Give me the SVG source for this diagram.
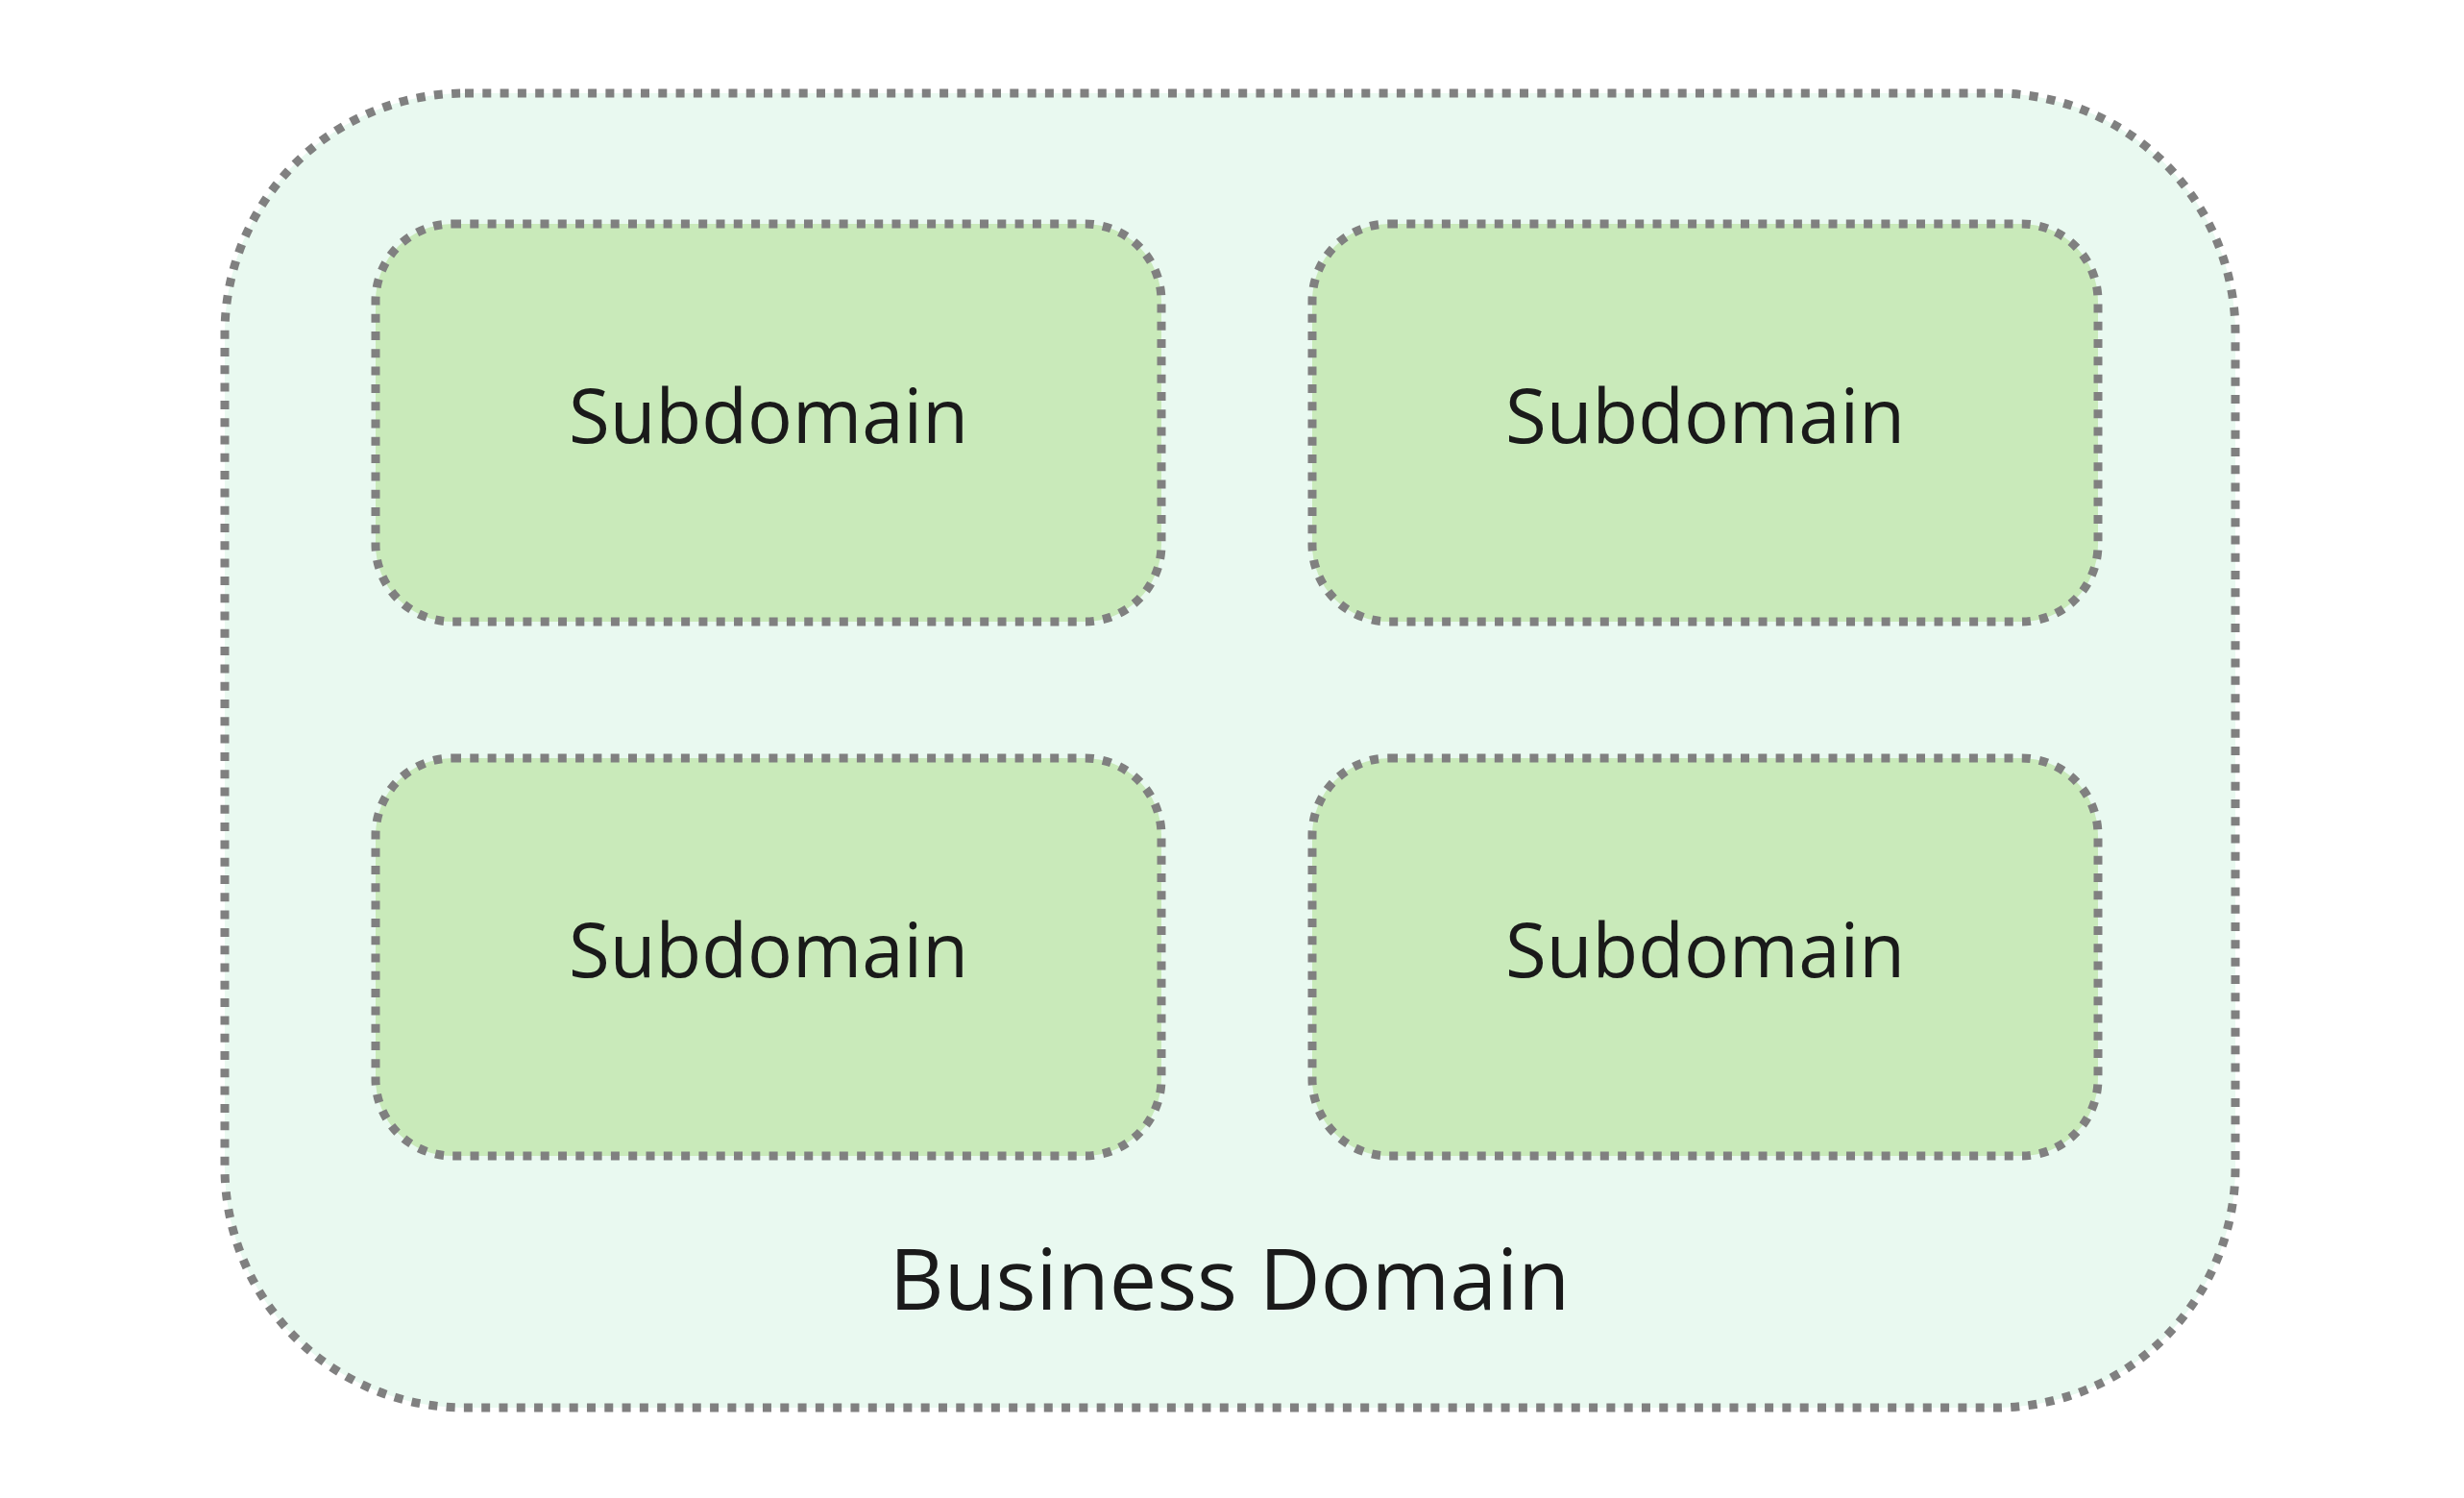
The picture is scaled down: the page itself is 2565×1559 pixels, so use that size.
<svg xmlns="http://www.w3.org/2000/svg" width="2565" height="1559" viewBox="0 0 2565 1559">
<style>
.domain{fill:#e9f9f0;stroke:#808080;stroke-width:9;stroke-dasharray:9 9.3}
.sub{fill:#c9eaba;stroke:#808080;stroke-width:9;stroke-dasharray:9 9.3}
.lbl{font-family:"Open Sans","Noto Sans",sans-serif;fill:#1a1a1a;text-anchor:middle}
</style>
<rect width="2565" height="1559" fill="#ffffff"/>
<g id="business-domain">
<rect class="domain" x="234" y="97" width="2093" height="1368" rx="250" ry="250"/>
<text class="lbl" x="1280" y="1363" font-size="88">Business Domain</text>
</g>
<g id="subdomain-1">
<rect class="sub" x="391" y="233" width="818" height="414" rx="80" ry="80"/>
<text class="lbl" x="800" y="461" font-size="78">Subdomain</text>
</g>
<g id="subdomain-2">
<rect class="sub" x="1366" y="233" width="818" height="414" rx="80" ry="80"/>
<text class="lbl" x="1775" y="461" font-size="78">Subdomain</text>
</g>
<g id="subdomain-3">
<rect class="sub" x="391" y="789" width="818" height="414" rx="80" ry="80"/>
<text class="lbl" x="800" y="1017" font-size="78">Subdomain</text>
</g>
<g id="subdomain-4">
<rect class="sub" x="1366" y="789" width="818" height="414" rx="80" ry="80"/>
<text class="lbl" x="1775" y="1017" font-size="78">Subdomain</text>
</g>
<g id="connectors"></g>
</svg>
